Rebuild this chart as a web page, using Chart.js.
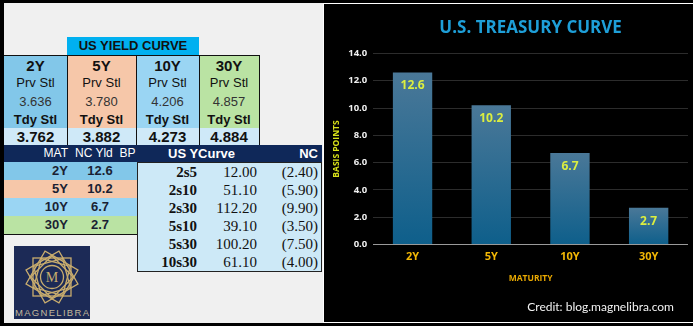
<!DOCTYPE html>
<html>
<head>
<meta charset="utf-8">
<script src="https://cdn.jsdelivr.net/npm/chart.js@4.4.1/dist/chart.umd.min.js"></script>
<style>
  body { margin: 0; width: 693px; height: 326px; background: #000; overflow: hidden; position: relative; font-family: "Liberation Sans", Arial, sans-serif; }
  .abs { position: absolute; box-sizing: border-box; white-space: nowrap; }
  #leftPanel { left: 4px; top: 3px; width: 319px; height: 320px; background: #f0f0f0; }
  #rightPanel { left: 323px; top: 3px; width: 370px; height: 320px; background: #000; border-top: 1px solid #fff; border-left: 1px solid #fff; border-bottom: 1px solid #fff; }
  #chartBox { left: 324px; top: 4px; width: 369px; height: 318px; }
  #credit { right: 19px; top: 299px; color: #f2f2f2; font: 12px Lato, "Open Sans", sans-serif; }
</style>
</head>
<body>
<div id="leftPanel" class="abs"></div>
<div id="rightPanel" class="abs"></div>
<div id="tables"></div>
<svg class="abs" style="left:14px;top:246px" width="76" height="73" viewBox="0 0 76 73">
  <rect width="76" height="73" fill="#1c2a56"/>
  <g fill="none" stroke="#c9ad6e" stroke-width="1.3" transform="translate(38 31)">
    <rect x="-19" y="-19" width="38" height="38"/>
    <rect x="-19" y="-19" width="38" height="38" transform="rotate(30)"/>
    <rect x="-19" y="-19" width="38" height="38" transform="rotate(60)"/>
    <rect x="-15" y="-15" width="30" height="30" transform="rotate(15)"/>
    <rect x="-15" y="-15" width="30" height="30" transform="rotate(45)"/>
    <rect x="-15" y="-15" width="30" height="30" transform="rotate(75)"/>
    <circle r="11.5"/>
  </g>
  <text x="38" y="36" text-anchor="middle" fill="#c9ad6e" font-family="Liberation Serif" font-size="14">M</text>
  <text x="38" y="70" text-anchor="middle" fill="#c2b89c" font-family="Liberation Sans" font-size="9.5" textLength="74">MAGNELIBRA</text>
</svg>
<div id="chartBox" class="abs"><canvas id="curveChart"></canvas></div>
<div id="credit" class="abs">Credit: blog.magnelibra.com</div>

<script>
// ---- dados ----
const maturities = ['2Y', '5Y', '10Y', '30Y'];
const ncBp = [12.6, 10.2, 6.7, 2.7];
const prvStl = ['3.636', '3.780', '4.206', '4.857'];
const tdyStl = ['3.762', '3.882', '4.273', '4.884'];
const spreadNames = ['2s5', '2s10', '2s30', '5s10', '5s30', '10s30'];
const spreadVals = [12.00, 51.10, 112.20, 39.10, 100.20, 61.10];
const spreadNC = [-2.40, -5.90, -9.90, -3.50, -7.50, -4.00];
const yMin = 0, yMax = 14, yStep = 2;

const matColors = ['#82c7e9', '#f6c7a9', '#9ad5f3', '#bae3a3'];

// ---- tabelas (lado esquerdo) ----
const host = document.getElementById('tables');
function cell(x, y, w, h, html, css) {
    const d = document.createElement('div');
    d.className = 'abs';
    d.style.cssText = `left:${x}px;top:${y}px;width:${w}px;height:${h}px;line-height:${h}px;` + (css || '');
    d.innerHTML = html;
    host.appendChild(d);
    return d;
}

cell(67, 37, 132, 18, 'US YIELD CURVE', 'background:#00b0f0;text-align:center;font-weight:bold;font-size:13px;color:#111;');

const colX = [4, 67, 136, 199, 259];
maturities.forEach((m, i) => {
    const x = colX[i], w = colX[i + 1] - colX[i];
    const bl = i > 0 ? 'border-left:1px solid #111;' : '';
    cell(x, 55, w, 73, '', `background:${matColors[i]};border-top:1px solid #111;${bl}`);
    cell(x, 128, w, 17, '', `background:#cfe9f8;${bl}`);
    const c = 'text-align:center;color:#111;';
    cell(x, 56, w, 19, m, c + 'font-weight:bold;font-size:15px;');
    cell(x, 74, w, 18, 'Prv Stl', c + 'font-size:13px;');
    cell(x, 92, w, 19, prvStl[i], c + 'font-size:13px;color:#333;');
    cell(x, 111, w, 17, 'Tdy Stl', c + 'font-weight:bold;font-size:13px;');
    cell(x, 128, w, 17, tdyStl[i], c + 'font-weight:bold;font-size:15px;');
});
cell(259, 55, 1, 90, '', 'background:#111;');

// barra azul escura
cell(4, 145, 318, 17, '', 'background:#0f2859;');
const hdr = 'color:#fff;font-size:12px;';
cell(4, 145, 64, 17, 'MAT', hdr + 'text-align:right;');
cell(75, 145, 60, 17, 'NC Yld&nbsp; BP', hdr);
cell(168, 145, 70, 17, 'US YCurve', hdr + 'font-weight:bold;font-size:13px;');
cell(270, 145, 48, 17, 'NC', hdr + 'text-align:right;font-weight:bold;font-size:13px;');

// NC yld por vencimento
maturities.forEach((m, i) => {
    const y = 162 + i * 18;
    cell(4, y, 133, 18, '', `background:${matColors[i]};`);
    cell(4, y, 64, 18, m, 'text-align:right;font-weight:bold;font-size:13px;color:#1a1f33;');
    cell(70, y, 60, 18, ncBp[i].toFixed(1), 'text-align:center;font-weight:bold;font-size:13px;color:#1a1f33;');
});
cell(4, 234, 133, 1, '', 'background:#111;');

// spreads da curva
cell(137, 162, 185, 110, '', 'background:#cde9f7;border:1px solid #222;');
const fmtNC = v => v < 0 ? `(${Math.abs(v).toFixed(2)})` : v.toFixed(2);
spreadNames.forEach((s, i) => {
    const y = 163 + i * 18;
    const f = 'font-family:"Liberation Serif",serif;font-size:15px;color:#111;text-align:right;';
    cell(140, y, 57, 18, s, f + 'font-weight:bold;');
    cell(200, y, 57, 18, spreadVals[i].toFixed(2), f);
    cell(260, y, 58, 18, fmtNC(spreadNC[i]), f);
});

// ---- gráfico ----
function barFill(ctx) {
    const chart = ctx.chart;
    if (!chart.chartArea) return '#1d6790';
    const y = chart.scales.y;
    const top = y.getPixelForValue(ctx.raw);
    const base = y.getPixelForValue(0);
    const g = chart.ctx.createLinearGradient(0, top, 0, base);
    g.addColorStop(0, '#4a7898');
    g.addColorStop(1, '#0e5f8b');
    return g;
}

const valueLabels = {
    id: 'valueLabels',
    afterDatasetsDraw(chart) {
        const ctx = chart.ctx;
        const meta = chart.getDatasetMeta(0);
        ctx.save();
        ctx.fillStyle = '#dcee40';
        ctx.font = 'bold 12px "Open Sans"';
        ctx.textAlign = 'center';
        ctx.textBaseline = 'middle';
        meta.data.forEach((bar, i) => ctx.fillText(ncBp[i].toFixed(1), bar.x, bar.y + 13.5));
        ctx.restore();
    }
};

new Chart(document.getElementById('curveChart'), {
    type: 'bar',
    data: {
        labels: maturities,
        datasets: [{ data: ncBp, backgroundColor: barFill, barPercentage: 0.5, categoryPercentage: 1.0 }]
    },
    options: {
        responsive: true,
        maintainAspectRatio: false,
        animation: false,
        layout: { padding: { left: 2, right: 5, top: 0, bottom: 34 } },
        plugins: {
            legend: { display: false },
            tooltip: { enabled: false },
            title: {
                display: true, fullSize: false, text: 'U.S. TREASURY CURVE', color: '#1e9fd8',
                font: { family: 'Open Sans', size: 17, weight: 'bold' },
                padding: { top: 14, bottom: 15 }
            }
        },
        scales: {
            x: {
                grid: { display: false },
                border: { display: false },
                ticks: { color: '#f2b705', font: { family: 'Open Sans', size: 11, weight: 'bold' }, padding: -2 },
                title: {
                    display: true, text: 'MATURITY', color: '#e8a800',
                    font: { family: 'Open Sans', size: 8.5, weight: 'bold' }, padding: { top: 12, bottom: 4 }
                }
            },
            y: {
                min: yMin, max: yMax,
                border: { display: false },
                grid: { drawTicks: false, color: c => c.tick.value === 0 ? '#9a9a9a' : '#2c2c2c' },
                ticks: {
                    stepSize: yStep, color: '#f0f0f0', padding: 6,
                    font: { family: 'Open Sans', size: 9.5, weight: 'bold' },
                    callback: v => v.toFixed(1)
                },
                title: {
                    display: true, text: 'BASIS POINTS', color: '#d9e21a',
                    font: { family: 'Open Sans', size: 8.5, weight: 'bold' }, padding: { top: 5, bottom: 1 }
                }
            }
        }
    },
    plugins: [valueLabels]
});
</script>
</body>
</html>
